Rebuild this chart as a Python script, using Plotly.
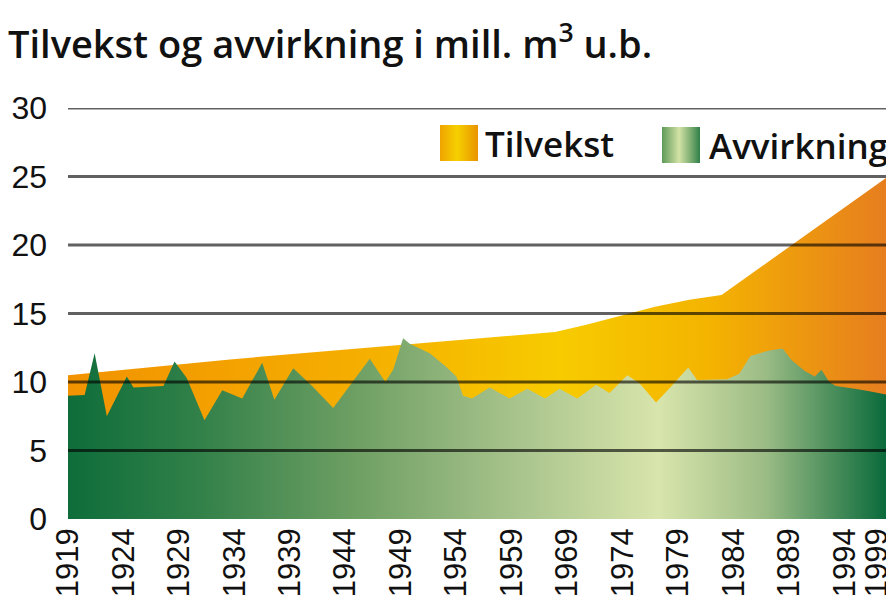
import base64
import plotly.graph_objects as go

# ---- data (x positions in axis units) ----
tilvekst_x = [1919.0, 1933.6, 1948.9, 1962.9, 1965.8, 1968.9, 1971.9, 1975.0, 1977.9, 1992.9]
tilvekst_y = [10.5, 11.65, 12.7, 13.65, 14.2, 14.85, 15.5, 16.0, 16.35, 25.0]

avvirkning_x = [1919.0, 1920.5, 1921.4, 1922.5, 1924.3, 1924.9, 1927.6, 1928.6, 1929.7, 1931.3,
                1932.9, 1934.7, 1936.5, 1937.6, 1939.3, 1941.0, 1942.9, 1946.2, 1947.6, 1948.3,
                1949.2, 1949.8, 1951.6, 1953.1, 1954.0, 1954.6, 1955.4, 1957.0, 1958.8, 1960.4,
                1962.0, 1963.3, 1964.9, 1966.6, 1967.8, 1969.4, 1970.5, 1972.0, 1973.5, 1974.9,
                1975.7, 1977.1, 1978.4, 1979.5, 1980.5, 1982.2, 1983.4, 1984.2, 1985.4, 1986.3,
                1986.9, 1987.6, 1988.2, 1989.9, 1991.1, 1992.9]
avvirkning_y = [9.0, 9.05, 12.1, 7.5, 10.4, 9.6, 9.7, 11.5, 10.3, 7.2,
                9.4, 8.8, 11.4, 8.7, 11.0, 9.7, 8.1, 11.7, 10.0, 10.9,
                13.2, 12.8, 12.1, 11.1, 10.4, 9.0, 8.8, 9.6, 8.8, 9.5,
                8.8, 9.5, 8.8, 9.8, 9.2, 10.5, 9.9, 8.5, 9.8, 11.05,
                10.15, 10.2, 10.2, 10.6, 11.9, 12.3, 12.45, 11.6, 10.8, 10.4,
                10.9, 10.0, 9.7, 9.5, 9.35, 9.05]

tick_pos = [1919, 1924, 1929, 1934, 1939, 1944, 1949, 1954, 1959, 1964, 1969, 1974, 1979, 1984, 1989, 1991.9]
tick_labels = ["1919", "1924", "1929", "1934", "1939", "1944", "1949", "1954", "1959",
               "1969", "1974", "1979", "1984", "1989", "1994", "1999"]
y_ticks = [0, 5, 10, 15, 20, 25, 30]

title_text = "Tilvekst og avvirkning i mill. m<sup>3</sup> u.b."
series_names = ["Tilvekst", "Avvirkning"]

orange_scale = [[0.0, "#F29200"], [0.35, "#F5AE00"], [0.6, "#F7CB00"], [0.78, "#F4B400"], [1.0, "#E67D1F"]]
green_scale = [[0.0, "#0E6D3A"], [0.15, "#2F7F48"], [0.35, "#6E9F63"], [0.55, "#A9C48D"],
               [0.72, "#D8E5AC"], [0.85, "#9CBC85"], [1.0, "#08693A"]]

fig = go.Figure()
fig.add_trace(go.Scatter(
    x=tilvekst_x, y=tilvekst_y, mode="lines", line=dict(width=0), fill="tozeroy",
    fillgradient=dict(type="horizontal", colorscale=orange_scale),
    name=series_names[0], showlegend=False, hoverinfo="skip"))
fig.add_trace(go.Scatter(
    x=avvirkning_x, y=avvirkning_y, mode="lines", line=dict(width=0), fill="tozeroy",
    fillgradient=dict(type="horizontal", colorscale=green_scale),
    name=series_names[1], showlegend=False, hoverinfo="skip"))

# gridlines drawn above the areas
for v in y_ticks[1:]:
    fig.add_shape(type="line", xref="paper", x0=0, x1=1, yref="y", y0=v, y1=v,
                  line=dict(color="rgba(0,0,0,0.62)", width=3), layer="above")


def svg_swatch(stops):
    st = "".join(f'<stop offset="{o}" stop-color="{c}"/>' for o, c in stops)
    svg = ('<svg xmlns="http://www.w3.org/2000/svg" width="40" height="40">'
           f'<defs><linearGradient id="g" x1="0" y1="0" x2="1" y2="0">{st}</linearGradient></defs>'
           '<rect width="40" height="40" fill="url(#g)"/></svg>')
    return "data:image/svg+xml;base64," + base64.b64encode(svg.encode()).decode()


# plot area: 820 x 411 px, its left edge 68 px and its bottom 519 px from the window's top-left
PW, PH = 820.0, 411.0
swatches = [
    (440, 125, svg_swatch([(0, "#EFA400"), (0.45, "#F6D000"), (1, "#E99300")])),
    (662, 127, svg_swatch([(0, "#5E9A58"), (0.45, "#D3E2A6"), (0.75, "#7FAE72"), (1, "#2E8048")])),
]
for px, py, src in swatches:
    fig.add_layout_image(dict(source=src, xref="paper", yref="paper",
                              x=(px - 68) / PW, y=(519 - py) / PH,
                              sizex=38 / PW, sizey=36 / PH, sizing="stretch",
                              xanchor="left", yanchor="top", layer="above"))

legend_font = dict(family="Open Sans", size=35, color="#111111", weight=600)
fig.add_annotation(text=series_names[0], xref="paper", yref="paper", x=(483 - 68) / PW,
                   y=(519 - 143) / PH, xanchor="left", yanchor="middle", showarrow=False,
                   font=legend_font)
fig.add_annotation(text=series_names[1], xref="paper", yref="paper", x=(707 - 68) / PW,
                   y=(519 - 145) / PH, xanchor="left", yanchor="middle", showarrow=False,
                   font=legend_font)

fig.add_annotation(text=title_text, xref="paper", yref="paper", x=(6 - 68) / PW,
                   y=(519 - 42) / PH, xanchor="left", yanchor="middle", showarrow=False,
                   font=dict(family="Open Sans", size=38, color="#111111", weight=600))

# the page body adds an 8 px offset, so the figure is 886 x 599
fig.update_layout(
    width=886, height=599,
    margin=dict(l=60, r=6, t=100, b=88),
    paper_bgcolor="white", plot_bgcolor="white",
    showlegend=False,
)
fig.update_xaxes(range=[1919, 1992.9], tickmode="array", tickvals=tick_pos, ticktext=tick_labels,
                 tickangle=-90, showgrid=False, zeroline=False, showline=False, ticks="",
                 automargin=False, ticklabelstandoff=2, ticklabeloverflow="allow",
                 tickfont=dict(family="Liberation Sans", size=31, color="#111111"))
fig.update_yaxes(range=[0, 30], tickmode="array", tickvals=y_ticks, showgrid=False,
                 zeroline=False, showline=False, ticks="", ticklabelstandoff=20,
                 automargin=False,
                 tickfont=dict(family="Liberation Sans", size=32, color="#111111"))

fig.write_html("out.html")
